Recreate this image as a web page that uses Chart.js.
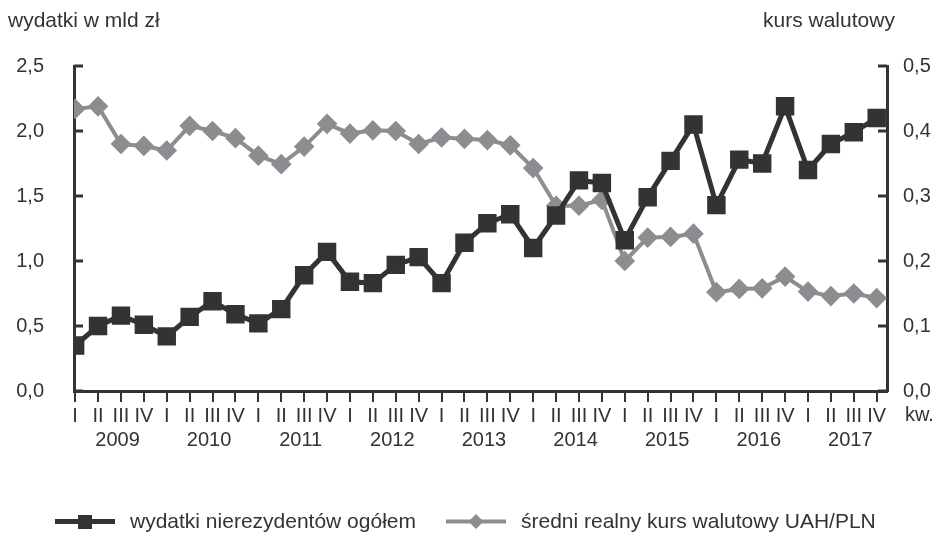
<!DOCTYPE html>
<html>
<head>
<meta charset="utf-8">
<script src="https://cdn.jsdelivr.net/npm/chart.js@4"></script>
<style>
  body { margin: 0; background: #fff; }
  #wrap { position: relative; width: 938px; height: 538px; font-family: "Liberation Sans", Arial, sans-serif; color: #333; }
  .lbl { position: absolute; font-size: 21px; white-space: nowrap; }
  #legend { position: absolute; top: 509px; left: 55px; font-size: 21px; display: flex; align-items: center; white-space: nowrap; }
  #legend span.sw { display: inline-block; margin-right: 15px; height: 23px; }
</style>
</head>
<body>
<div id="wrap">
  <canvas id="chart" width="938" height="538"></canvas>
  <div class="lbl" style="left:8px; top:8px;">wydatki w mld zł</div>
  <div class="lbl" style="left:763px; top:8px;">kurs walutowy</div>
  <div id="legend"></div>
</div>
<script>
// quarterly data, 2009 Q1 .. 2017 Q4

const years = ["2009", "2010", "2011", "2012", "2013", "2014", "2015", "2016", "2017"];
const quarterNames = ["I", "II", "III", "IV"];

const spending = [
  0.35, 0.50, 0.58, 0.51, 0.42, 0.57, 0.69, 0.59, 0.52,
  0.63, 0.89, 1.07, 0.84, 0.83, 0.97, 1.03, 0.83, 1.14,
  1.29, 1.36, 1.10, 1.35, 1.62, 1.60, 1.16, 1.49, 1.77,
  2.05, 1.43, 1.78, 1.75, 2.19, 1.70, 1.90, 1.99, 2.10
];

const rate = [
  0.434, 0.438, 0.380, 0.377, 0.370, 0.408, 0.400, 0.389, 0.362,
  0.349, 0.376, 0.411, 0.396, 0.401, 0.400, 0.380, 0.390, 0.388,
  0.386, 0.378, 0.343, 0.285, 0.285, 0.294, 0.200, 0.236, 0.237,
  0.242, 0.152, 0.157, 0.158, 0.176, 0.153, 0.146, 0.150, 0.143
];

const leftTicks = [0, 0.5, 1.0, 1.5, 2.0, 2.5];
const rightTicks = [0, 0.1, 0.2, 0.3, 0.4, 0.5];

const seriesNames = ["wydatki nierezydentów ogółem", "średni realny kurs walutowy UAH/PLN"];

const quarters = [];
years.forEach(y => quarterNames.forEach(q => quarters.push(q)));

const DARK = "#333333";
const GREY = "#8c8d90";
const FONT = "'Liberation Sans', Arial, sans-serif";

const fmt = v => v.toFixed(1).replace(".", ",");

// small inward ticks on both value axes, year row and "kw." under the quarter row
const extras = {
  id: "extras",
  afterDraw(chart) {
    const ctx = chart.ctx;
    const { x, y, y1 } = chart.scales;
    ctx.save();
    ctx.strokeStyle = DARK;
    ctx.lineWidth = 3;
    leftTicks.forEach(v => {
      const py = y.getPixelForValue(v);
      ctx.beginPath();
      ctx.moveTo(x.left, py);
      ctx.lineTo(x.left + 9, py);
      ctx.stroke();
    });
    rightTicks.forEach(v => {
      const py = y1.getPixelForValue(v);
      ctx.beginPath();
      ctx.moveTo(x.right, py);
      ctx.lineTo(x.right - 9, py);
      ctx.stroke();
    });
    ctx.fillStyle = DARK;
    ctx.font = "20px " + FONT;
    ctx.textAlign = "center";
    ctx.textBaseline = "middle";
    years.forEach((yr, i) => {
      ctx.fillText(yr, x.getPixelForValue(i * 4 + 1.85), 440);
    });
    ctx.textAlign = "left";
    ctx.fillText("kw.", x.right + 18, 415);
    ctx.restore();
  }
};

new Chart(document.getElementById("chart"), {
  type: "line",
  data: {
    datasets: [
      {
        label: seriesNames[0],
        data: spending.map((v, i) => ({ x: i, y: v })),
        yAxisID: "y",
        borderColor: DARK,
        backgroundColor: DARK,
        borderWidth: 5,
        pointStyle: "rect",
        pointRadius: 9.5,
        pointHoverRadius: 9.5,
        tension: 0,
        order: 0
      },
      {
        label: seriesNames[1],
        data: rate.map((v, i) => ({ x: i, y: v })),
        yAxisID: "y1",
        borderColor: GREY,
        backgroundColor: GREY,
        borderWidth: 4,
        pointStyle: "rectRot",
        pointRadius: 7.5,
        pointHoverRadius: 7.5,
        tension: 0,
        order: 1
      }
    ]
  },
  options: {
    responsive: false,
    animation: false,
    layout: { padding: { top: 66, left: 0, right: 0, bottom: 0 } },
    plugins: {
      legend: { display: false },
      tooltip: { enabled: false }
    },
    scales: {
      x: {
        type: "linear",
        min: -0.05,
        max: 35.45,
        afterFit: s => { s.height = 147; },
        afterBuildTicks: s => { s.ticks = quarters.map((q, i) => ({ value: i })); },
        border: { color: DARK, width: 3 },
        grid: { drawOnChartArea: false, drawTicks: true, tickLength: 11, color: DARK, lineWidth: 2 },
        ticks: {
          autoSkip: false,
          maxRotation: 0,
          padding: 2,
          color: DARK,
          font: { family: FONT, size: 20 },
          callback: (v) => quarters[v] || ""
        }
      },
      y: {
        position: "left",
        min: 0,
        max: 2.5,
        afterFit: s => { s.width = 74; },
        afterBuildTicks: s => { s.ticks = leftTicks.map(v => ({ value: v })); },
        border: { color: DARK, width: 3 },
        grid: { display: false, drawTicks: false },
        ticks: {
          padding: 30,
          color: DARK,
          font: { family: FONT, size: 20 },
          callback: v => fmt(v)
        }
      },
      y1: {
        position: "right",
        min: 0,
        max: 0.5,
        afterFit: s => { s.width = 51; },
        afterBuildTicks: s => { s.ticks = rightTicks.map(v => ({ value: v })); },
        border: { color: DARK, width: 3 },
        grid: { display: false, drawTicks: false },
        ticks: {
          padding: 16,
          color: DARK,
          font: { family: FONT, size: 20 },
          callback: v => fmt(v)
        }
      }
    }
  },
  plugins: [extras]
});

// legend with line + marker samples
const legend = document.getElementById("legend");
const samples = [
  { color: DARK, width: 5, marker: `<rect x="23" y="5" width="14" height="14" fill="${DARK}"/>` },
  { color: GREY, width: 4, marker: `<polygon points="30,4 37.5,11.5 30,19 22.5,11.5" fill="${GREY}"/>` }
];
seriesNames.forEach((name, i) => {
  const s = samples[i];
  const sw = document.createElement("span");
  sw.className = "sw";
  sw.innerHTML = `<svg width="60" height="23"><line x1="0" y1="11.5" x2="60" y2="11.5" stroke="${s.color}" stroke-width="${s.width}"/>${s.marker}</svg>`;
  const txt = document.createElement("span");
  txt.textContent = name;
  txt.style.marginRight = i === 0 ? "30px" : "0";
  legend.appendChild(sw);
  legend.appendChild(txt);
});
</script>
</body>
</html>
